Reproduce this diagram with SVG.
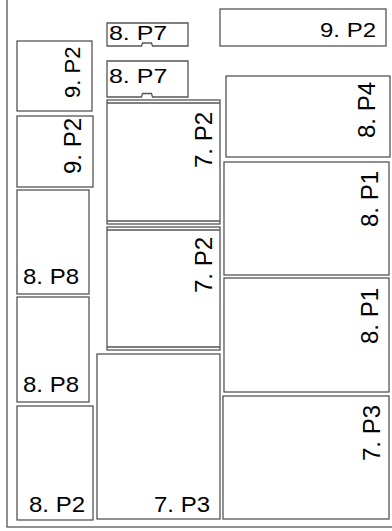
<svg xmlns="http://www.w3.org/2000/svg" width="392" height="531" viewBox="0 0 392 531">
<style>
.b{fill:#fff;stroke:#555;stroke-width:1.3}
.l{fill:none;stroke:#555;stroke-width:1.3}
.t{font-family:"Liberation Sans",Arial,sans-serif;font-size:24px;fill:#000}
</style>
<rect width="392" height="531" fill="#fff"/>
<g id="frame"><rect class="l" x="7" y="-3" width="392" height="530"/></g>
<g id="connectors"/>
<g id="n1"><rect class="b" x="17" y="41" width="75" height="70"/><text class="t" style="font-size:22px" transform="translate(80,98) rotate(-90)">9. P2</text></g>
<g id="n2"><rect class="b" x="17" y="116" width="76" height="71"/><text class="t" transform="translate(81,174) rotate(-90)">9. P2</text></g>
<g id="n3"><rect class="b" x="17" y="190" width="72" height="104"/><text class="t" transform="translate(23,284) scale(1,0.92)">8. P8</text></g>
<g id="n4"><rect class="b" x="17" y="297" width="72" height="105"/><text class="t" transform="translate(23,392) scale(1,0.92)">8. P8</text></g>
<g id="n5"><rect class="b" x="17" y="406" width="76" height="114"/><text class="t" transform="translate(29,512) scale(1,0.92)">8. P2</text></g>
<g id="n6"><path class="b" d="M107,23H188V46H152.5L151.5,43H142.5L141.5,46H107Z"/><text class="t" transform="translate(109,39.5) scale(1.04,0.84)">8. P7</text></g>
<g id="n7"><path class="b" d="M107,61H188V97H152.5L151.5,93.5H142.5L141.5,97H107Z"/><text class="t" transform="translate(109,83) scale(1.04,0.86)">8. P7</text></g>
<g id="n8"><rect class="b" x="107" y="100" width="113" height="124"/><path class="l" d="M107,103H220M107,221H220"/><text class="t" transform="translate(212,168) rotate(-90)">7. P2</text></g>
<g id="n9"><rect class="b" x="107" y="227" width="113" height="123"/><path class="l" d="M107,230H220M107,347H220"/><text class="t" transform="translate(212,293) rotate(-90)">7. P2</text></g>
<g id="n10"><rect class="b" x="97" y="354" width="123" height="165"/><text class="t" transform="translate(154,512) scale(1,0.92)">7. P3</text></g>
<g id="n11"><rect class="b" x="220" y="9" width="166" height="37"/><text class="t" text-anchor="end" transform="translate(376,37) scale(1,0.82)">9. P2</text></g>
<g id="n12"><rect class="b" x="226" y="76" width="164" height="81"/><text class="t" transform="translate(375,138) rotate(-90)">8. P4</text></g>
<g id="n13"><rect class="b" x="224" y="162" width="165" height="113"/><text class="t" transform="translate(378,227) rotate(-90)">8. P1</text></g>
<g id="n14"><rect class="b" x="224" y="278" width="165" height="114"/><text class="t" transform="translate(378,344) rotate(-90)">8. P1</text></g>
<g id="n15"><rect class="b" x="223" y="396" width="166" height="123"/><text class="t" transform="translate(380,461) rotate(-90)">7. P3</text></g>
</svg>
